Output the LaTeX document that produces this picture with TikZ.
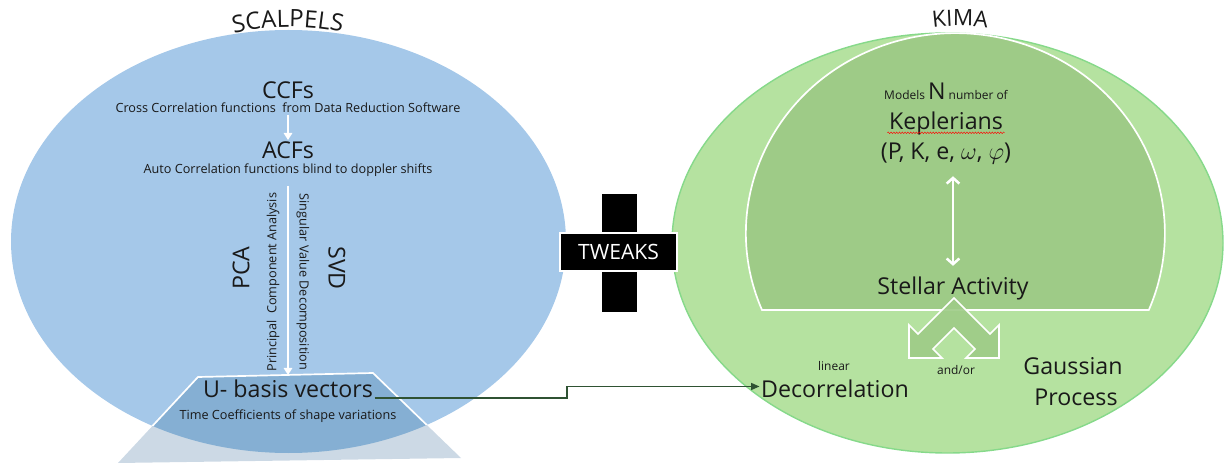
\documentclass[tikz,border=0pt]{standalone}
\usepackage{fontspec}
\setmainfont{Open Sans}
\usetikzlibrary{arrows.meta}
\usetikzlibrary{positioning}
\usetikzlibrary{decorations.text}
\usetikzlibrary{decorations.pathmorphing}

\definecolor{scalpblue}{RGB}{165,200,233}
\definecolor{basisblue}{RGB}{133,175,211}
\definecolor{basisgrey}{RGB}{204,217,229}
\definecolor{kimagreen}{RGB}{181,226,160}
\definecolor{kimaedge}{RGB}{134,217,138}
\definecolor{keplgreen}{RGB}{158,203,135}
\definecolor{linkgreen}{RGB}{47,82,51}
\definecolor{ink}{RGB}{25,25,25}

\begin{document}
\begin{tikzpicture}[
    x=0.025cm, y=-0.025cm,
    >=Stealth,
    every node/.style={text=ink, inner sep=1pt},
    title/.style={font=\fontsize{16.5}{18}\selectfont},
    note/.style={font=\fontsize{9}{10}\selectfont},
    small/.style={font=\fontsize{8.5}{10}\selectfont},
    flow/.style={draw=white, line width=1.3pt, -{Triangle[length=5pt,width=6pt]}},
    link/.style={draw=linkgreen, line width=1pt, -{Triangle[length=6pt,width=5pt]}},
    tweak/.style={fill=black, draw=white, line width=1pt, text=white,
        minimum width=2.925cm, minimum height=0.95cm, font=\fontsize{15}{17}\selectfont}
]
\useasboundingbox (0,0) rectangle (1224,465);

% Shapes
\fill[scalpblue] (288.5,241.5) ellipse [x radius=277.5, y radius=211.5];
\fill[basisgrey] (198,377) -- (373,373) -- (461,458) -- (118,463) -- cycle;
\begin{scope}
  \clip (288.5,241.5) ellipse [x radius=277.5, y radius=211.5];
  \filldraw[fill=basisblue, draw=white, line width=1.2pt]
    (198,377) -- (373,373) -- (461,458) -- (118,463) -- cycle;
\end{scope}
\coordinate (basistop) at (288,375);

\filldraw[fill=kimagreen, draw=kimaedge, line width=1pt] (947.5,243) ellipse [x radius=275.5, y radius=210];
\filldraw[fill=keplgreen, draw=white, line width=1.2pt]
  (762,310) arc [start angle=157.4, end angle=382.6, x radius=209.5, y radius=200] -- cycle;
\filldraw[fill=keplgreen, draw=white, line width=1.2pt, fill opacity=0.9]
  (954,298) -- (990,334) -- (999,325) -- (999,358) -- (966,358) -- (975,349) -- (954,328)
  -- (933,349) -- (942,358) -- (909,358) -- (909,325) -- (918,334) -- cycle;

\filldraw[fill=black, draw=white, line width=0.4pt] (601,193) rectangle (637,312);

% Titles
\path[decorate, decoration={text along path, text align=center, text color=ink,
    text={|\fontsize{17}{19}\selectfont|SCALPELS}}]
  (224,36) .. controls (261,24) and (315,24) .. (352,35);
\path[decorate, decoration={text along path, text align=center, text color=ink,
    text={|\fontsize{16}{18}\selectfont|KIMA}}]
  (926,29) .. controls (947,25) and (973,25) .. (994,29);

% Nodes
\node[title, anchor=base] (ccf) at (288,98.5) {CCFs};
\node[note, anchor=base] (ccfnote) at (288,113) {Cross Correlation functions\ \ from Data Reduction Software};
\node[title, anchor=base] (acf) at (288,158.5) {ACFs};
\node[note, anchor=base] (acfnote) at (288,174) {Auto Correlation functions blind to doppler shifts};
\node[title, rotate=90] (pca) at (241,268) {PCA};
\node[note, rotate=90] (pcanote) at (273,282) {Principal\ \ Component Analysis};
\node[note, rotate=-90] (svdnote) at (303,282) {Singular Value Decomposition};
\node[title, rotate=-90] (svd) at (337,268) {SVD};
\node[title, anchor=base] (ubasis) at (288,398) {U- basis vectors};
\node[note, anchor=base] (ubasisnote) at (288,419) {Time Coefficients of shape variations};

\node[tweak] (tweaks) at (618.5,252) {TWEAKS};

\node[small, anchor=base] (models) at (946,100) {Models {\fontsize{16.5}{18}\selectfont N} number of};
\node[title, anchor=base] (kepler) at (946,130) {Keplerians};
\node[title, anchor=base] (params) at (946,160) {(P, K, e, $\omega$, $\varphi$)};
\node[title, anchor=base] (stellar) at (953,295) {Stellar Activity};
\node[small, anchor=base] (linear) at (834,370) {linear};
\node[title, anchor=base] (decor) at (835,398) {Decorrelation};
\node[small, anchor=base] (andor) at (956,374) {and/or};
\node[title, anchor=base] (gauss) at (1073,375) {Gaussian};
\node[title, anchor=base] (process) at (1076,405) {Process};
\coordinate (jog) at (567,392);

% Edges
\draw[flow] (ccfnote) -- (acf);
\draw[flow, shorten <=5pt] (acfnote) -- (basistop);
\draw[flow, line width=1.8pt, {Straight Barb[length=4pt,width=9pt]}-{Straight Barb[length=4pt,width=9pt]},
    shorten <=7pt, shorten >=7pt]
  (params.south -| stellar.north) -- (stellar.north);
\draw[link] (ubasis.base east) -| (jog) |- ([yshift=2pt]decor.west);
\draw[red, line width=0.3pt, decorate, decoration={snake, amplitude=0.6pt, segment length=2pt}]
  ([yshift=-2pt]kepler.base west) -- ([yshift=-2pt]kepler.base east);

\end{tikzpicture}
\end{document}
